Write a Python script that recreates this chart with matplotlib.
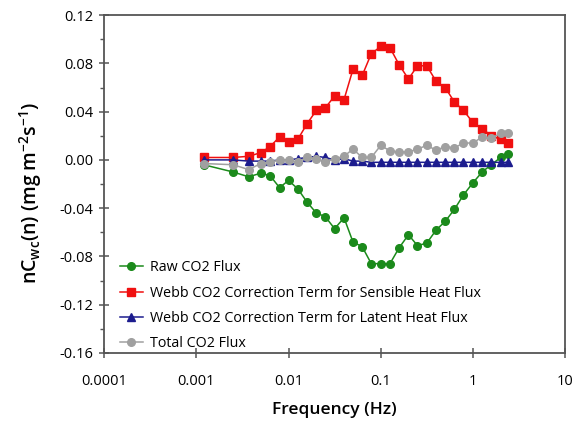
import numpy as np
import matplotlib
matplotlib.use("Agg")
import matplotlib.pyplot as plt
from matplotlib.ticker import FixedLocator, MultipleLocator, FuncFormatter

plt.rcParams['font.family'] = ['Open Sans', 'DejaVu Sans']

# frequencies (Hz)
freq = [0.0012, 0.0025, 0.0037, 0.005, 0.0063, 0.008, 0.01, 0.0126, 0.0159, 0.02,
        0.025, 0.0316, 0.04, 0.05, 0.063, 0.079, 0.1, 0.126, 0.158, 0.2,
        0.25, 0.316, 0.4, 0.5, 0.63, 0.79, 1.0, 1.26, 1.58, 2.0, 2.4]

raw_flux = [-0.004, -0.010, -0.014, -0.011, -0.013, -0.023, -0.017, -0.024, -0.035, -0.044,
            -0.047, -0.057, -0.048, -0.068, -0.072, -0.086, -0.086, -0.086, -0.073, -0.062,
            -0.071, -0.069, -0.058, -0.051, -0.041, -0.029, -0.019, -0.010, -0.004, 0.002, 0.005]

webb_sensible = [0.002, 0.002, 0.003, 0.006, 0.011, 0.019, 0.015, 0.017, 0.030, 0.041,
                 0.043, 0.053, 0.050, 0.075, 0.070, 0.088, 0.094, 0.093, 0.079, 0.067,
                 0.078, 0.078, 0.065, 0.060, 0.048, 0.041, 0.031, 0.026, 0.020, 0.017, 0.014]

webb_latent = [0.000, 0.000, -0.001, -0.001, -0.001, 0.000, 0.000, 0.001, 0.002, 0.003,
               0.002, 0.000, 0.001, -0.001, -0.001, -0.002, -0.002, -0.002, -0.002, -0.002,
               -0.002, -0.002, -0.002, -0.002, -0.002, -0.002, -0.002, -0.002, -0.002, -0.002, -0.002]

total_flux = [-0.003, -0.004, -0.008, -0.003, -0.002, 0.000, 0.000, -0.002, 0.002, 0.001,
              -0.002, 0.001, 0.003, 0.009, 0.002, 0.002, 0.012, 0.0075, 0.0066, 0.0066,
              0.009, 0.012, 0.008, 0.011, 0.010, 0.014, 0.014, 0.019, 0.018, 0.022, 0.022]

labels = ["Raw CO2 Flux",
          "Webb CO2 Correction Term for Sensible Heat Flux",
          "Webb CO2 Correction Term for Latent Heat Flux",
          "Total CO2 Flux"]

fig = plt.figure(figsize=(5.85, 4.32), dpi=100)
ax = fig.add_axes([0.178, 0.183, 0.788, 0.782])

ax.plot(freq, raw_flux, '-o', color='#1b8a1b', lw=1.1, ms=5.5, label=labels[0])
ax.plot(freq, webb_sensible, '-s', color='#f01010', lw=1.1, ms=5.5, label=labels[1])
ax.plot(freq, webb_latent, '-^', color='#1c1c8e', lw=1.1, ms=5.5, label=labels[2])
ax.plot(freq, total_flux, '-o', color='#a0a0a0', lw=1.1, ms=5.5, label=labels[3])

ax.set_xscale('log')
ax.set_xlim(0.0001, 10)
ax.set_ylim(-0.16, 0.12)

xt = [0.0001, 0.001, 0.01, 0.1, 1, 10]
ax.xaxis.set_major_locator(FixedLocator(xt))
ax.xaxis.set_minor_locator(FixedLocator([]))
ax.xaxis.set_major_formatter(FuncFormatter(lambda v, p: "%g" % v if v >= 1 else ("%.4f" % v).rstrip('0')))
ax.yaxis.set_major_locator(MultipleLocator(0.04))
ax.yaxis.set_minor_locator(MultipleLocator(0.02))
ax.yaxis.set_major_formatter(FuncFormatter(lambda v, p: "%.2f" % v))

for s in ax.spines.values():
    s.set_color('#555555')
    s.set_linewidth(1.3)
ax.tick_params(axis='both', which='major', direction='inout', length=7, width=1.1,
               color='#555555', labelsize=10.5, pad=4)
ax.tick_params(axis='x', which='major', pad=12)
ax.tick_params(axis='y', which='minor', direction='out', length=3, width=1.0, color='#555555')
for t in ax.get_xticklabels() + ax.get_yticklabels():
    t.set_fontweight('medium')

ax.set_xlabel("Frequency (Hz)", fontsize=12.5, fontweight='semibold', labelpad=9)
ax.set_ylabel(r"nC$_{\mathregular{wc}}$(n) (mg m$^{\mathregular{-2}}$s$^{\mathregular{-1}}$)",
              fontsize=14, fontweight='semibold')
ax.yaxis.set_label_coords(-0.13, 0.475)

ax.legend(loc='lower left', frameon=False, prop={'size': 10.3, 'weight': 'medium'},
          handlelength=1.6, handletextpad=0.5, labelspacing=0.72, borderaxespad=0.0,
          bbox_to_anchor=(0.022, -0.012))

fig.savefig("out.png", dpi=100)
